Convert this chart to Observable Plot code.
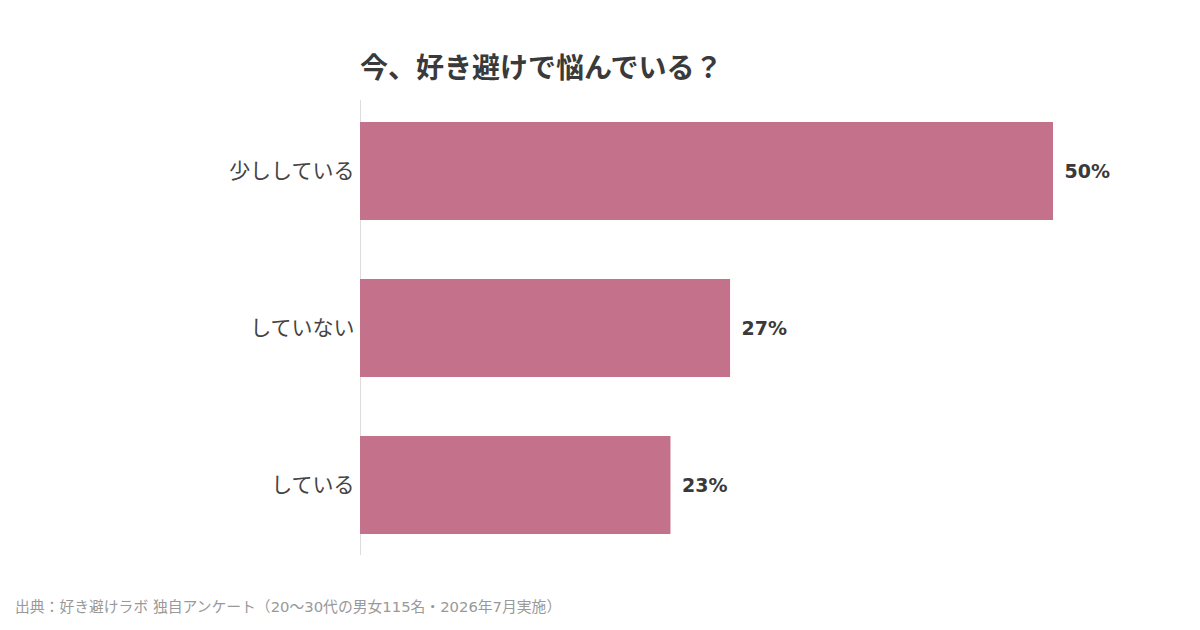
<!DOCTYPE html>
<html>
<head>
<meta charset="utf-8">
<script src="https://cdn.jsdelivr.net/npm/d3@7"></script>
<script src="https://cdn.jsdelivr.net/npm/@observablehq/plot@0.6"></script>
<style>
  html, body { margin: 0; padding: 0; background: #fff; }
  body { width: 1200px; height: 630px; position: relative; overflow: hidden;
         font-family: "DejaVu Sans", "Noto Sans CJK JP", sans-serif; }
  #title { position: absolute; left: 360px; top: 46px; font-size: 28px; font-weight: bold; z-index: 2;
           color: #3a3a3a; font-family: "Noto Sans CJK JP", sans-serif; line-height: 40px; white-space: nowrap; }
  #chart { position: absolute; left: 0; top: 0; z-index: 1; }
  #caption { position: absolute; left: 15px; top: 595px; font-size: 14.8px; color: #999; z-index: 2;
             font-family: "DejaVu Sans", "Noto Sans CJK JP", sans-serif; white-space: nowrap; }
</style>
</head>
<body>
<div id="chart"></div>
<div id="title">今、好き避けで悩んでいる？</div>
<div id="caption">出典：好き避けラボ 独自アンケート（20〜30代の男女115名・2026年7月実施）</div>
<script>
const categories = ["少ししている", "していない", "している"];
const values = [50, 26.7, 22.4];
const valueLabels = ["50%", "27%", "23%"];

const data = categories.map((c, i) => ({ category: c, value: values[i], label: valueLabels[i] }));

const chart = Plot.plot({
  width: 1200,
  height: 630,
  marginTop: 100,
  marginBottom: 75,
  marginLeft: 360,
  marginRight: 147,
  style: { fontFamily: '"DejaVu Sans", "Noto Sans CJK JP", sans-serif', background: "transparent" },
  x: { domain: [0, 50], axis: null },
  y: { domain: categories, paddingInner: 0.378, paddingOuter: 0.133, label: null, tickSize: 0, tickPadding: 6 },
  marks: [
    Plot.ruleX([0], { stroke: "#dddddd", strokeWidth: 1 }),
    Plot.barX(data, { x: "value", y: "category", fill: "#c4718b" }),
    Plot.text(data, { x: "value", y: "category", text: "label", textAnchor: "start", dx: 11,
                      fontSize: 19, fontWeight: "bold", fill: "#3a3a3a" }),
    Plot.axisY({ tickSize: 0, tickPadding: 6, fontSize: 21, color: "#444", label: null })
  ]
});
document.getElementById("chart").appendChild(chart);
</script>
</body>
</html>
